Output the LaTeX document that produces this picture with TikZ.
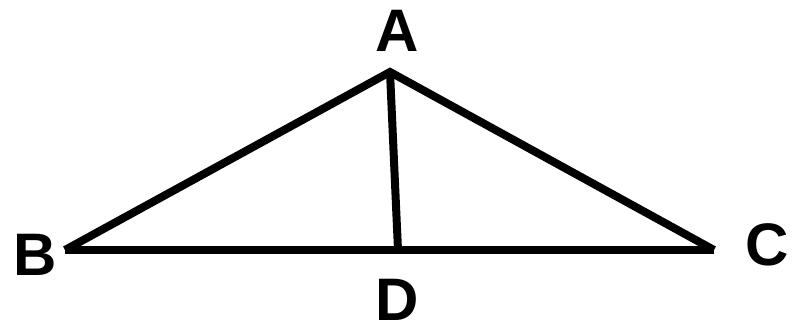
\documentclass[tikz,border=0pt]{standalone}
\usepackage{fontspec}
\setmainfont{Liberation Sans}
\usetikzlibrary{positioning}

\begin{document}
\begin{tikzpicture}[
			x=1pt, y=-1pt,
			edge/.style={line width=8pt},
			lbl/.style={
					inner sep=0pt,
					font=\fontsize{60}{60}\selectfont\bfseries
				}
		]
		\useasboundingbox (0, 0) rectangle (796, 327);

		\coordinate (a) at (390, 72);
		\coordinate (b) at (65, 250);
		\coordinate (c) at (714, 250);
		\coordinate (d) at (398, 250);

		\node[lbl] (la) at (397, 31) {A};
		\node[lbl] (lb) at (35, 255) {B};
		\node[lbl] (lc) at (767, 245) {C};
		\node[lbl] (ld) at (397, 300) {D};

		\draw[edge] (b) -- (a) -- (c);
		\draw[edge] (b) -- (c);
		\draw[edge] (a) -- (d);
	\end{tikzpicture}
\end{document}
